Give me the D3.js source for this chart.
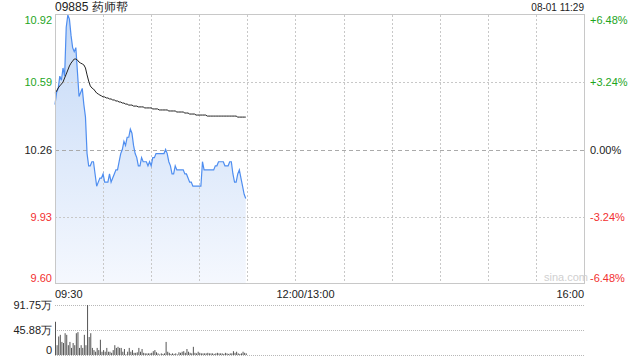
<!DOCTYPE html>
<html>
<head>
<meta charset="utf-8">
<script src="https://cdn.jsdelivr.net/npm/d3@7/dist/d3.min.js"></script>
<style>
  body { margin: 0; background: #fff; }
  text { font-family: "Liberation Sans", Arial, sans-serif; }
</style>
</head>
<body>
<div id="chart"></div>
<script>
// data
const stockTitle = "09885 药师帮";
const stamp = "08-01 11:29";
const priceTicks = [10.92, 10.59, 10.26, 9.93, 9.60];
const pctTicks = ["+6.48%", "+3.24%", "0.00%", "-3.24%", "-6.48%"];
const volTicks = [91.75, 45.88, 0];
const volLabels = ["91.75万", "45.88万", "0"];
const timeLabels = ["09:30", "12:00/13:00", "16:00"];
const prevClose = 10.26;

// one value per minute from 09:30
const price = [
  10.48, 10.54, 10.56, 10.62, 10.60, 10.66, 10.62, 10.86, 10.92, 10.90,
  10.82, 10.76, 10.74, 10.76, 10.64, 10.52, 10.54, 10.56, 10.48, 10.42,
  10.24, 10.18, 10.18, 10.20, 10.20, 10.14, 10.08, 10.10, 10.12, 10.12,
  10.14, 10.10, 10.10, 10.10, 10.14, 10.10, 10.12, 10.14, 10.16, 10.16,
  10.20, 10.24, 10.26, 10.30, 10.28, 10.32, 10.32, 10.36, 10.34, 10.28,
  10.24, 10.22, 10.18, 10.18, 10.22, 10.20, 10.20, 10.20, 10.18, 10.20,
  10.18, 10.22, 10.22, 10.24, 10.24, 10.24, 10.24, 10.24, 10.24, 10.26,
  10.24, 10.20, 10.18, 10.14, 10.14, 10.18, 10.16, 10.16, 10.16, 10.16,
  10.16, 10.14, 10.14, 10.12, 10.10, 10.10, 10.08, 10.08, 10.08, 10.08,
  10.08, 10.08, 10.20, 10.16, 10.16, 10.16, 10.16, 10.16, 10.16, 10.16,
  10.18, 10.18, 10.20, 10.20, 10.20, 10.20, 10.18, 10.18, 10.18, 10.20,
  10.20, 10.14, 10.10, 10.10, 10.14, 10.16, 10.12, 10.08, 10.04, 10.02
];

const avgPrice = [
  10.537, 10.547, 10.562, 10.572, 10.581, 10.591, 10.611, 10.630, 10.650, 10.670,
  10.684, 10.694, 10.704, 10.704, 10.699, 10.689, 10.684, 10.680, 10.675, 10.660,
  10.626, 10.596, 10.572, 10.562, 10.557, 10.547, 10.537, 10.532, 10.527, 10.523,
  10.518, 10.518, 10.513, 10.513, 10.508, 10.508, 10.503, 10.503, 10.498, 10.498,
  10.493, 10.493, 10.488, 10.488, 10.483, 10.483, 10.478, 10.478, 10.478, 10.473,
  10.473, 10.473, 10.469, 10.469, 10.469, 10.469, 10.464, 10.464, 10.464, 10.464,
  10.464, 10.459, 10.459, 10.459, 10.459, 10.454, 10.454, 10.454, 10.454, 10.454,
  10.454, 10.449, 10.449, 10.449, 10.449, 10.449, 10.444, 10.444, 10.444, 10.444,
  10.444, 10.439, 10.439, 10.439, 10.434, 10.434, 10.434, 10.434, 10.429, 10.429,
  10.429, 10.429, 10.429, 10.429, 10.429, 10.424, 10.424, 10.424, 10.424, 10.424,
  10.424, 10.424, 10.424, 10.424, 10.424, 10.424, 10.424, 10.424, 10.424, 10.424,
  10.424, 10.424, 10.424, 10.424, 10.419, 10.419, 10.419, 10.419, 10.419, 10.419
];

// volume in 万 shares
const volume = [
  61, 18, 34, 37, 24, 22, 40, 37, 18, 24,
  13, 22, 18, 40, 42, 13, 18, 13, 37, 18,
  91.75, 33, 40, 13, 9, 6, 13, 9, 28, 6,
  9, 6, 13, 6, 6, 4, 9, 18, 13, 15,
  13, 13, 6, 11, 1, 6, 13, 6, 9, 4,
  4, 5, 13, 6, 11, 4, 3, 3, 3, 3,
  4, 7, 9, 5, 3, 1, 3, 2, 3, 24,
  6, 4, 2, 3, 2, 3, 1, 5, 4, 6,
  7, 4, 11, 6, 4, 3, 15, 4, 3, 6,
  4, 3, 3, 3, 3, 4, 3, 3, 3, 2,
  3, 4, 3, 3, 3, 2, 4, 3, 2, 3,
  3, 7, 4, 6, 3, 2, 3, 6, 4, 3
];

const W = 640, H = 360;
const plotL = 55, plotR = 584;
const plotT = 15, plotB = 284;
const volT = 305, volB = 355;

const green = "#1ea51e", red = "#f23030";
const gridCol = "#c8c8c8";

const svg = d3.select("#chart").append("svg")
  .attr("width", W)
  .attr("height", H);

const x = d3.scaleLinear().domain([0, 330]).range([plotL, plotR]);
const y = d3.scaleLinear().domain([9.60, 10.92]).range([plotB, plotT]);
const yv = d3.scaleLinear().domain([0, 91.75]).range([volB, volT]);

// gradient for the area
const grad = svg.append("defs").append("linearGradient")
  .attr("id", "fillGrad")
  .attr("x1", 0).attr("y1", 0).attr("x2", 0).attr("y2", 1);
grad.append("stop").attr("offset", "0%").attr("stop-color", "#c4d9f7");
grad.append("stop").attr("offset", "100%").attr("stop-color", "#f5f8fe");

// area first, grid drawn over it
const area = d3.area()
  .x((d, i) => x(i))
  .y0(plotB)
  .y1(d => y(d));
svg.append("path")
  .datum(price)
  .attr("d", area)
  .attr("fill", "url(#fillGrad)");

// vertical grid every 30 min
svg.append("g").selectAll("line")
  .data(d3.range(30, 330, 30))
  .enter().append("line")
  .attr("x1", d => Math.round(x(d)) + 0.5).attr("x2", d => Math.round(x(d)) + 0.5)
  .attr("y1", plotT).attr("y2", plotB)
  .attr("stroke", gridCol)
  .attr("stroke-dasharray", "2,2");

// horizontal grid
svg.append("g").selectAll("line")
  .data(priceTicks.slice(1, 4))
  .enter().append("line")
  .attr("x1", plotL).attr("x2", plotR)
  .attr("y1", d => Math.round(y(d)) + 0.5).attr("y2", d => Math.round(y(d)) + 0.5)
  .attr("stroke", d => d === prevClose ? "#aaa" : gridCol)
  .attr("stroke-dasharray", d => d === prevClose ? "4,3" : "2,2");

svg.append("path")
  .datum(price)
  .attr("d", d3.line().x((d, i) => x(i)).y(d => y(d)))
  .attr("fill", "none")
  .attr("stroke", "#4f8ef0")
  .attr("stroke-width", 1.2);

svg.append("path")
  .datum(avgPrice)
  .attr("d", d3.line().x((d, i) => x(i)).y(d => y(d)))
  .attr("fill", "none")
  .attr("stroke", "#222")
  .attr("stroke-width", 1);

// frame
svg.append("rect")
  .attr("x", plotL + 0.5).attr("y", plotT - 0.5)
  .attr("width", plotR - plotL).attr("height", plotB - plotT)
  .attr("fill", "none")
  .attr("stroke", "#c8c8c8");

// price labels left
svg.append("g").selectAll("text")
  .data(priceTicks)
  .enter().append("text")
  .attr("x", plotL - 3)
  .attr("y", (d, i) => y(d) + (i === 0 ? 9 : i === 4 ? -2 : 4))
  .attr("text-anchor", "end")
  .attr("font-size", 11)
  .attr("fill", d => d > prevClose ? green : d < prevClose ? red : "#222")
  .text(d => d.toFixed(2));

// pct labels right
svg.append("g").selectAll("text")
  .data(pctTicks)
  .enter().append("text")
  .attr("x", plotR + 6)
  .attr("y", (d, i) => y(priceTicks[i]) + (i === 0 ? 9 : i === 4 ? -2 : 4))
  .attr("font-size", 11)
  .attr("fill", d => d[0] === "+" ? green : d[0] === "-" ? red : "#222")
  .text(d => d);

// title + time stamp
svg.append("text")
  .attr("x", plotL).attr("y", 11)
  .attr("font-size", 12)
  .attr("fill", "#222")
  .text(stockTitle);
svg.append("text")
  .attr("x", plotR).attr("y", 11)
  .attr("text-anchor", "end")
  .attr("font-size", 10)
  .attr("fill", "#222")
  .text(stamp);

// watermark
svg.append("text")
  .attr("x", plotR - 18).attr("y", 281)
  .attr("text-anchor", "middle")
  .attr("font-size", 11)
  .attr("fill", "#d0d0d0")
  .text("sina.com");

// time labels
svg.append("g").selectAll("text")
  .data(timeLabels)
  .enter().append("text")
  .attr("x", (d, i) => i === 0 ? plotL : i === 1 ? x(150) + 10 : plotR)
  .attr("y", 298)
  .attr("text-anchor", (d, i) => i === 0 ? "start" : i === 1 ? "middle" : "end")
  .attr("font-size", 11)
  .attr("fill", "#222")
  .text(d => d);

// volume grid
svg.append("g").selectAll("line")
  .data(volTicks)
  .enter().append("line")
  .attr("x1", plotL).attr("x2", plotR)
  .attr("y1", d => Math.round(yv(d)) + 0.5).attr("y2", d => Math.round(yv(d)) + 0.5)
  .attr("stroke", "#b8b8b8")
  .attr("stroke-dasharray", "1,1");

// volume labels
svg.append("g").selectAll("text")
  .data(volTicks)
  .enter().append("text")
  .attr("x", plotL - 3)
  .attr("y", (d, i) => yv(d) + (i === 2 ? -1 : 4))
  .attr("text-anchor", "end")
  .attr("font-size", 11)
  .attr("fill", "#222")
  .text((d, i) => volLabels[i]);

// volume bars
svg.append("g").selectAll("rect")
  .data(volume)
  .enter().append("rect")
  .attr("x", (d, i) => x(i))
  .attr("y", d => yv(d))
  .attr("width", 1)
  .attr("height", d => volB - yv(d))
  .attr("fill", "#555");
</script>
</body>
</html>
